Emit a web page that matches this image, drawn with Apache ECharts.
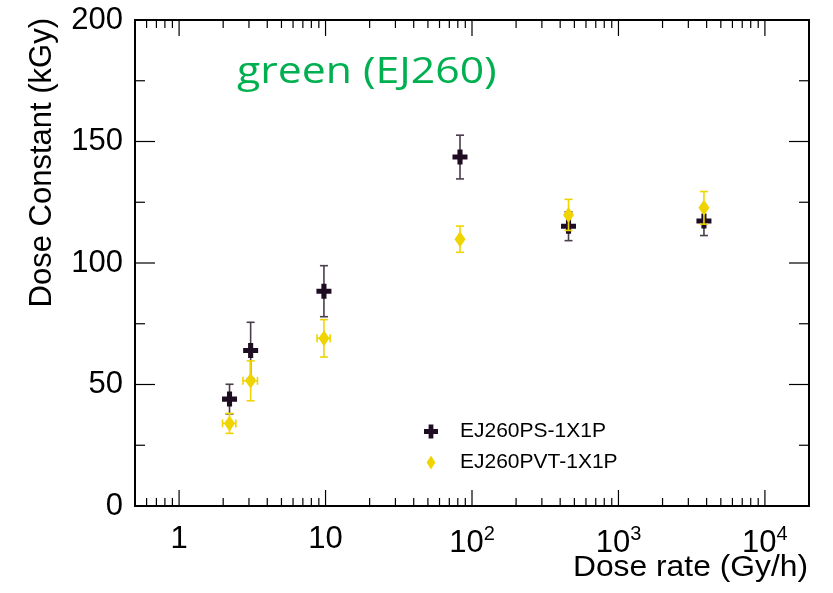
<!DOCTYPE html>
<html>
<head>
<meta charset="utf-8">
<script src="https://cdn.jsdelivr.net/npm/echarts@6/dist/echarts.min.js"></script>
<style>
  html, body { margin: 0; padding: 0; background: #fff; }
  #chart { width: 833px; height: 593px; }
</style>
</head>
<body>
<div id="chart"></div>
<script>
// dose rate (Gy/h) and dose constant (kGy)
const rateRuns = [2.21, 3.08, 9.75, 82.8, 456, 3835]
const constPS = [44.0, 64.0, 88.4, 143.6, 115.1, 117.3]
const constErrPS = [6.1, 11.6, 10.5, 9.0, 5.9, 6.0]
const constPVT = [34.0, 51.5, 69.0, 109.8, 119.8, 122.7]
const constErrPVT = [4.1, 8.2, 7.7, 5.4, 6.4, 6.7]
const rateErrPVT = [0.23, 0.35, 1.0, 0, 0, 0]

const seriesNames = ["EJ260PS-1X1P", "EJ260PVT-1X1P"]

// axis ticks
const xDecades = [1, 10, 100, 1000, 10000]
const xMantissas = [2, 3, 4, 5, 6, 7, 8, 9]
const xLowMinor = [0.6, 0.7, 0.8, 0.9]
const yMajorTicks = [0, 50, 100, 150, 200]
const yMinorTicks = [25, 75, 125, 175]

const X_MIN = 0.5, X_MAX = 20000, Y_MIN = 0, Y_MAX = 200

const xMinorTicks = xLowMinor.concat(
  ...xDecades.map((d) => xMantissas.map((m) => m * d))
).filter((v) => v > X_MIN && v < X_MAX)

const PS_COLOR = "#1e0c22"
const PS_ERR = "#4a3d4c"
const PVT_COLOR = "#f0d400"
const PLUS = "path://M3.3,0H6.7V3.3H10V6.7H6.7V10H3.3V6.7H0V3.3H3.3Z"
const FONT = "'Liberation Sans', Arial, sans-serif"

function errorBars(color) {
  return function (params, api) {
    const x = api.value(0), y = api.value(1), ey = api.value(2), ex = api.value(3)
    const top = api.coord([x, y + ey])
    const bot = api.coord([x, y - ey])
    const cap = 4
    const style = { stroke: color, lineWidth: 1.6 }
    const kids = [
      { type: "line", shape: { x1: top[0], y1: top[1], x2: bot[0], y2: bot[1] }, style },
      { type: "line", shape: { x1: top[0] - cap, y1: top[1], x2: top[0] + cap, y2: top[1] }, style },
      { type: "line", shape: { x1: bot[0] - cap, y1: bot[1], x2: bot[0] + cap, y2: bot[1] }, style },
    ]
    if (ex > 0) {
      const l = api.coord([x - ex, y])
      const r = api.coord([x + ex, y])
      kids.push(
        { type: "line", shape: { x1: l[0], y1: l[1], x2: r[0], y2: r[1] }, style },
        { type: "line", shape: { x1: l[0], y1: l[1] - cap, x2: l[0], y2: l[1] + cap }, style },
        { type: "line", shape: { x1: r[0], y1: r[1] - cap, x2: r[0], y2: r[1] + cap }, style }
      )
    }
    return { type: "group", children: kids }
  }
}

// ROOT-style ticks on all four sides of the frame
function frameTicks(params, api) {
  const kids = []
  const style = { stroke: "#000", lineWidth: 1.2 }
  const xTick = (v, len) => {
    const b = api.coord([v, Y_MIN]), t = api.coord([v, Y_MAX])
    kids.push({ type: "line", shape: { x1: b[0], y1: b[1], x2: b[0], y2: b[1] - len }, style })
    kids.push({ type: "line", shape: { x1: t[0], y1: t[1], x2: t[0], y2: t[1] + len }, style })
  }
  const yTick = (v, len) => {
    const l = api.coord([X_MIN, v]), r = api.coord([X_MAX, v])
    kids.push({ type: "line", shape: { x1: l[0], y1: l[1], x2: l[0] + len, y2: l[1] }, style })
    kids.push({ type: "line", shape: { x1: r[0], y1: r[1], x2: r[0] - len, y2: r[1] }, style })
  }
  xDecades.forEach((v) => xTick(v, 16))
  xMinorTicks.forEach((v) => xTick(v, 8))
  yMajorTicks.forEach((v) => yTick(v, 20))
  yMinorTicks.forEach((v) => yTick(v, 10))
  return { type: "group", children: kids }
}

const chart = echarts.init(document.getElementById("chart"), null, { renderer: "canvas" })
chart.setOption({
  animation: false,
  backgroundColor: "#fff",
  textStyle: { fontFamily: FONT },
  grid: {
    left: 135, right: 24, top: 20, bottom: 87,
    show: true, borderColor: "#000", borderWidth: 2, backgroundColor: "transparent",
  },
  legend: {
    orient: "vertical",
    left: 419, top: 416,
    itemWidth: 14, itemHeight: 14, itemGap: 10,
    textStyle: { fontSize: 21, color: "#000", padding: [0, 0, 0, 17] },
    data: [
      { name: seriesNames[0], icon: PLUS, itemStyle: { color: PS_COLOR } },
      { name: seriesNames[1], icon: "path://M5,0L10,8L5,16L0,8Z", itemStyle: { color: PVT_COLOR } },
    ],
  },
  xAxis: {
    type: "log",
    logBase: 10,
    min: X_MIN,
    max: X_MAX,
    axisLine: { show: false },
    axisTick: { show: false },
    splitLine: { show: false },
    axisLabel: {
      margin: 18,
      fontSize: 31,
      color: "#000",
      showMinLabel: false,
      showMaxLabel: false,
      formatter: (v) => {
        const lg = Math.log10(v)
        const p = Math.round(lg)
        if (Math.abs(lg - p) > 1e-6) return ""
        if (p === 0) return "1"
        if (p === 1) return "10"
        return "10{sup|" + p + "}"
      },
      rich: {
        sup: { fontSize: 20, verticalAlign: "bottom", padding: [0, 0, 18, 0] },
      },
    },
  },
  yAxis: {
    type: "value",
    min: Y_MIN,
    max: Y_MAX,
    interval: 50,
    axisLine: { show: false },
    axisTick: { show: false },
    splitLine: { show: false },
    axisLabel: { margin: 12, fontSize: 31, color: "#000" },
  },
  graphic: [
    {
      type: "text",
      x: 237, y: 54,
      scaleX: 1.155,
      style: { text: "green (EJ260)", fontSize: 37, fill: "#00b050", fontFamily: "'Open Sans', sans-serif" },
    },
    {
      type: "text",
      x: 808, y: 553,
      scaleX: 1.06,
      style: { text: "Dose rate (Gy/h)", fontSize: 30, fill: "#000", fontFamily: FONT, align: "right" },
    },
    {
      type: "text",
      x: 27, y: 18,
      rotation: Math.PI / 2,
      style: { text: "Dose Constant (kGy)", fontSize: 31, fill: "#000", fontFamily: FONT, align: "right", verticalAlign: "top" },
    },
  ],
  series: [
    {
      type: "custom",
      silent: true,
      clip: false,
      renderItem: frameTicks,
      data: [[1, 0]],
      z: 1,
    },
    {
      type: "custom",
      name: "psErr",
      renderItem: errorBars(PS_ERR),
      data: rateRuns.map((x, i) => [x, constPS[i], constErrPS[i], 0]),
      z: 2,
    },
    {
      type: "scatter",
      name: seriesNames[0],
      symbol: PLUS,
      symbolSize: 15,
      itemStyle: { color: PS_COLOR, opacity: 1 },
      data: rateRuns.map((x, i) => [x, constPS[i]]),
      z: 3,
    },
    {
      type: "custom",
      name: "pvtErr",
      renderItem: errorBars(PVT_COLOR),
      data: rateRuns.map((x, i) => [x, constPVT[i], constErrPVT[i], rateErrPVT[i]]),
      z: 4,
    },
    {
      type: "scatter",
      name: seriesNames[1],
      symbol: "diamond",
      symbolSize: [11, 16],
      itemStyle: { color: PVT_COLOR, opacity: 1 },
      data: rateRuns.map((x, i) => [x, constPVT[i]]),
      z: 5,
    },
  ],
})
</script>
</body>
</html>
